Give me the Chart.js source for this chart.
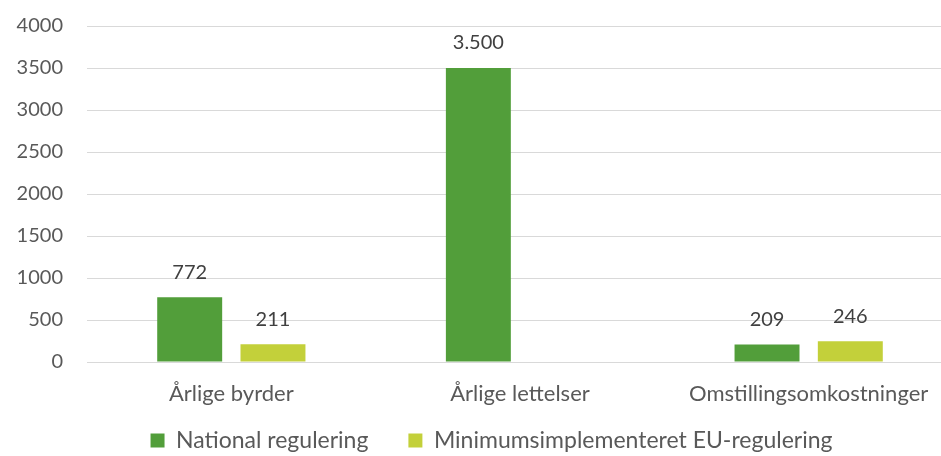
<!DOCTYPE html>
<html lang="da">
<head>
<meta charset="UTF-8">
<title>Byrder og lettelser</title>
<script src="https://cdn.jsdelivr.net/npm/chart.js@4.4.1/dist/chart.umd.min.js"></script>
<style>
  html, body { margin: 0; padding: 0; background: #fff; }
  #wrap { width: 941px; height: 456px; overflow: hidden; }
  /* the original picture is cropped on the right and at the top */
  #box { width: 953px; height: 505px; margin-top: -10px; }
</style>
</head>
<body>
<div id="wrap"><div id="box"><canvas id="chart"></canvas></div></div>
<script>
// categories and series
const categories = ['Årlige byrder', 'Årlige lettelser', 'Omstillingsomkostninger'];
const nationalValues = [772, 3500, 209];
const euValues = [211, null, 246];
const seriesNames = ['National regulering', 'Minimumsimplementeret EU-regulering'];
const yTicks = [0, 500, 1000, 1500, 2000, 2500, 3000, 3500, 4000];

const FONT = 'Lato, "Open Sans", sans-serif';

// danish thousands separator: 3500 -> 3.500
function fmt(v) {
  return String(v).replace(/\B(?=(\d{3})+(?!\d))/g, '.');
}

const valueLabels = {
  id: 'valueLabels',
  afterDatasetsDraw(chart) {
    const ctx = chart.ctx;
    ctx.save();
    ctx.font = '20px ' + FONT;
    ctx.fillStyle = '#404040';
    ctx.textAlign = 'center';
    ctx.textBaseline = 'middle';
    chart.data.datasets.forEach((ds, i) => {
      chart.getDatasetMeta(i).data.forEach((bar, j) => {
        const v = ds.data[j];
        if (v == null) return;
        ctx.fillText(fmt(v), bar.x, bar.y - 25);
      });
    });
    ctx.restore();
  }
};

// legend sits a bit right of centre and higher up in the original
const nudgeLegend = {
  id: 'nudgeLegend',
  afterLayout(chart) {
    const lg = chart.legend;
    lg.left += 15;
    lg.right += 15;
    lg.top -= 33;
    lg.bottom -= 33;
  }
};

new Chart(document.getElementById('chart'), {
  type: 'bar',
  data: {
    labels: categories,
    datasets: [
      { label: seriesNames[0], data: nationalValues, backgroundColor: '#529e3a' },
      { label: seriesNames[1], data: euValues, backgroundColor: '#c3d03a' }
    ]
  },
  options: {
    responsive: true,
    maintainAspectRatio: false,
    animation: false,
    categoryPercentage: 0.577,
    barPercentage: 0.78,
    layout: { padding: { top: 6, left: 0, right: 0, bottom: 0 } },
    plugins: {
      tooltip: { enabled: false },
      legend: {
        position: 'bottom',
        labels: {
          font: { family: FONT, size: 23 },
          color: '#595959',
          boxWidth: 14,
          boxHeight: 14,
          padding: 40
        }
      }
    },
    scales: {
      x: {
        grid: { display: false },
        border: { display: false },
        ticks: { font: { family: FONT, size: 22 }, color: '#595959', padding: 11 },
        afterFit(scale) { scale.height = 60; }
      },
      y: {
        min: 0,
        max: 4000,
        afterBuildTicks(scale) { scale.ticks = yTicks.map(v => ({ value: v })); },
        grid: { color: '#d9d9d9', lineWidth: 1, drawTicks: false },
        border: { display: false },
        ticks: {
          font: { family: FONT, size: 20 },
          color: '#595959',
          padding: 24,
          callback: v => String(v)
        },
        afterFit(scale) { scale.width = 87; }
      }
    }
  },
  plugins: [valueLabels, nudgeLegend]
});
</script>
</body>
</html>
